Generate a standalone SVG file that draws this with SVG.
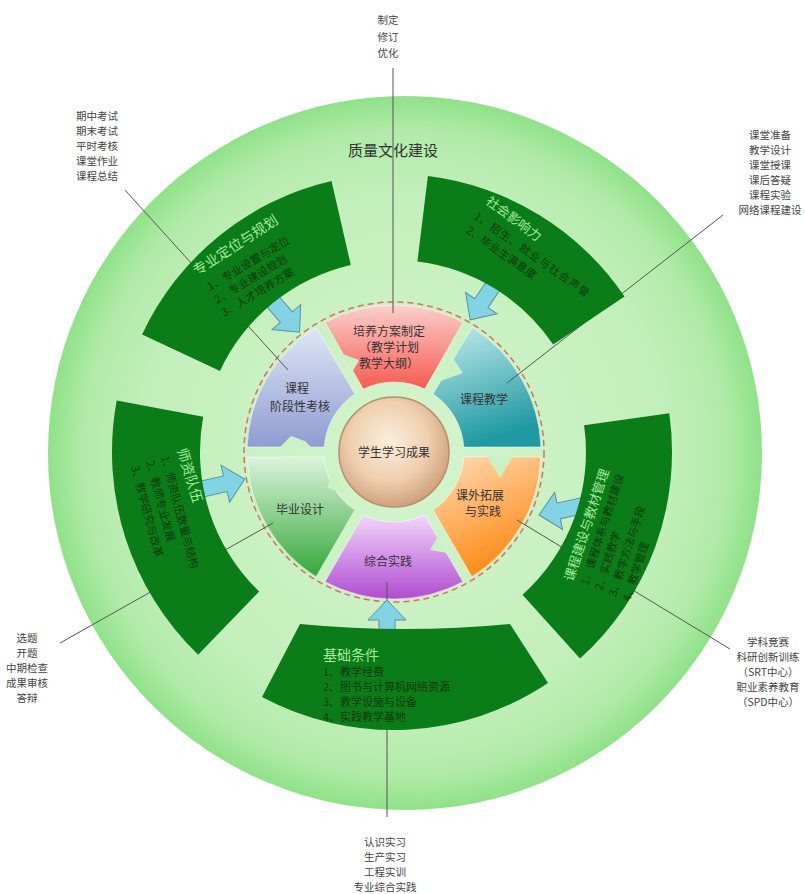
<svg xmlns="http://www.w3.org/2000/svg" width="805" height="894" viewBox="0 0 805 894">
<defs>
<radialGradient id="gOuter" cx="0.5" cy="0.5" r="0.5">
<stop offset="0" stop-color="#d4f5cd"/>
<stop offset="0.72" stop-color="#c3efbb"/>
<stop offset="0.9" stop-color="#b2eba9"/>
<stop offset="1" stop-color="#8fe288"/>
</radialGradient>
<radialGradient id="gCenter" cx="0.45" cy="0.4" r="0.6">
<stop offset="0" stop-color="#fbeedd"/>
<stop offset="0.6" stop-color="#efcfae"/>
<stop offset="1" stop-color="#cfa27c"/>
</radialGradient>
<linearGradient id="gRed" x1="0" y1="0" x2="0" y2="1"><stop offset="0" stop-color="#fcd0cc"/><stop offset="1" stop-color="#f55a50"/></linearGradient>
<linearGradient id="gTeal" x1="0" y1="0" x2="0.3" y2="1"><stop offset="0" stop-color="#c4ecec"/><stop offset="1" stop-color="#1f9aa2"/></linearGradient>
<linearGradient id="gOrange" x1="0" y1="0" x2="0.4" y2="1"><stop offset="0" stop-color="#ffdcb8"/><stop offset="1" stop-color="#ff8a14"/></linearGradient>
<linearGradient id="gPurple" x1="0" y1="0" x2="0" y2="1"><stop offset="0" stop-color="#f2d6fa"/><stop offset="1" stop-color="#b04cd2"/></linearGradient>
<linearGradient id="gGreen" x1="0" y1="0" x2="0" y2="1"><stop offset="0" stop-color="#dcf4dc"/><stop offset="1" stop-color="#34a83a"/></linearGradient>
<linearGradient id="gBlue" x1="0" y1="0" x2="0" y2="1"><stop offset="0" stop-color="#e0e6f6"/><stop offset="1" stop-color="#8e9cd0"/></linearGradient>
<polygon id="arrow" points="-14,-8 28,-8 28,-19 48,0 28,19 28,8 -14,8"/>
</defs>
<style>
.band{fill:#0b7d18}
.arr{fill:#82d4e4;stroke:#5d8fa6;stroke-width:1}
.piece{stroke:#ffffff;stroke-opacity:0.5;stroke-width:1}
.notch{fill:#caf2c3}
.ttl{font-family:"Noto Sans CJK SC","Noto Sans",sans-serif;font-size:14px;fill:#a2ec9e}
.itm{font-family:"Noto Sans CJK SC","Noto Sans",sans-serif;font-size:11px;fill:#0a3a0c}
.pl{font-family:"Noto Sans CJK SC","Noto Sans",sans-serif;font-size:12px;fill:#333333;text-anchor:middle}
.ol{font-family:"Noto Sans CJK SC","Noto Sans",sans-serif;font-size:10.5px;fill:#444444;text-anchor:middle}
.ln{stroke:#555555;stroke-width:1;fill:none}
</style>
<rect width="805" height="894" fill="#ffffff"/>
<g id="outer">
<circle cx="405" cy="453" r="357" fill="url(#gOuter)"/>
<text x="393" y="156" class="pl" style="font-size:15px">质量文化建设</text>
</g>
<g id="p-plan">
<path class="piece" fill="url(#gRed)" d="M325,322.2 A147,147 0 0 1 463,322.2 L424.7,389.1 A70,70 0 0 0 363.3,389.1 Z"/>
<polygon class="notch" points="343,354 359,360 353,371"/>
<text class="pl" x="389" y="336">培养方案制定</text>
<text class="pl" x="389" y="352">（教学计划</text>
<text class="pl" x="389" y="368">教学大纲）</text>
</g>
<g id="p-teach">
<path class="piece" fill="url(#gTeal)" d="M471.9,327.3 A147,147 0 0 1 540.9,446.9 L463.8,447.1 A70,70 0 0 0 433.1,394 Z"/>
<polygon class="notch" points="453.5,359 463,373 440.5,381"/>
<text class="pl" x="484" y="404">课程教学</text>
</g>
<g id="p-extra">
<path class="piece" fill="url(#gOrange)" d="M540.9,457.1 A147,147 0 0 1 471.9,576.7 L433.1,510 A70,70 0 0 0 463.8,456.9 Z"/>
<polygon class="notch" points="487,456 500,478 513,456"/>
<text class="pl" x="480" y="500">课外拓展</text>
<text class="pl" x="483" y="516">与实践</text>
</g>
<g id="p-practice">
<path class="piece" fill="url(#gPurple)" d="M463,581.8 A147,147 0 0 1 325,581.8 L363.3,514.9 A70,70 0 0 0 424.7,514.9 Z"/>
<polygon class="notch" points="438,536 430,550 447,553"/>
<text class="pl" x="388" y="566">综合实践</text>
</g>
<g id="p-grad">
<path class="piece" fill="url(#gGreen)" d="M316.1,576.7 A147,147 0 0 1 247.1,457.1 L324.2,456.9 A70,70 0 0 0 354.9,510 Z"/>
<polygon class="notch" points="333,471 327,488 346,493"/>
<text class="pl" x="300" y="514">毕业设计</text>
</g>
<g id="p-exam">
<path class="piece" fill="url(#gBlue)" d="M247.1,446.9 A147,147 0 0 1 316.1,327.3 L354.9,394 A70,70 0 0 0 324.2,447.1 Z"/>
<polygon class="notch" points="279,448 291,436 305,441 312,448"/>
<text class="pl" x="297" y="393">课程</text>
<text class="pl" x="300" y="411">阶段性考核</text>
</g>
<g id="pie">
<circle cx="394" cy="452" r="150" fill="none" stroke="#d9705e" stroke-width="1.5" stroke-dasharray="6 4"/>
</g>
<g id="center">
<circle cx="394" cy="452" r="55" fill="url(#gCenter)" stroke="#b98f6c" stroke-width="1.5"/>
<text class="pl" x="394" y="457">学生学习成果</text>
</g>
<g id="connectors">
<line class="ln" x1="393" y1="68" x2="393" y2="313"/>
<line class="ln" x1="125" y1="190" x2="288" y2="370"/>
<line class="ln" x1="723" y1="215" x2="507" y2="383"/>
<line class="ln" x1="60" y1="643" x2="273" y2="523"/>
<line class="ln" x1="730" y1="649" x2="517" y2="520"/>
<line class="ln" x1="387" y1="582" x2="387" y2="817"/>
</g>
<g id="arrows">
<use href="#arrow" class="arr" transform="translate(268,296) rotate(49)"/>
<use href="#arrow" class="arr" transform="translate(497,280) rotate(124)"/>
<use href="#arrow" class="arr" transform="translate(586,505) rotate(168)"/>
<use href="#arrow" class="arr" transform="translate(198,490) rotate(-13)"/>
<use href="#arrow" class="arr" transform="translate(387,648) rotate(-90)"/>
</g>
<g id="seg-plan">
<path class="band" d="M142.1,334.5 A278,278 0 0 1 331.5,181.1 L350.8,264.9 A192,192 0 0 0 220,370.9 Z"/>
<text class="ttl" transform="translate(197,276) rotate(-33)">专业定位与规划</text>
<text class="itm" transform="translate(210,291) rotate(-31)">1、专业设置与定位</text>
<text class="itm" transform="translate(217,304) rotate(-31)">2、专业建设规划</text>
<text class="itm" transform="translate(224,317) rotate(-31)">3、人才培养方案</text>
</g>
<g id="seg-social">
<path class="band" d="M427.9,176.1 A278,278 0 0 1 624.5,296.5 L553.2,344.6 A192,192 0 0 0 417.4,261.4 Z"/>
<text class="ttl" transform="translate(485,203) rotate(36.5)" style="font-size:13px">社会影响力</text>
<text class="itm" transform="translate(473,218) rotate(35)" style="letter-spacing:1px">1、招生、就业与社会声誉</text>
<text class="itm" transform="translate(465,232) rotate(35)">2、毕业生满意度</text>
</g>
<g id="seg-course">
<path class="band" d="M669.3,413.3 A278,278 0 0 1 580,658.6 L522.5,594.7 A192,192 0 0 0 584.1,425.3 Z"/>
<text class="ttl" transform="translate(573,582) rotate(-72)" style="font-size:13px">课程建设与教材管理</text>
<text class="itm" transform="translate(588,586) rotate(-72)">1、课程体系与教材建设</text>
<text class="itm" transform="translate(602,591) rotate(-72)">2、实践教学</text>
<text class="itm" transform="translate(616,597) rotate(-72)">3、教学方法与手段</text>
<text class="itm" transform="translate(630,602) rotate(-72)">4、教学管理</text>
</g>
<g id="seg-base">
<path class="band" d="M300,624 Q405,634 510,624 L548,683 A278,278 0 0 1 262,697 Z"/>
<text class="ttl" x="323" y="660">基础条件</text>
<text class="itm" x="323" y="676">1、教学经费</text>
<text class="itm" x="323" y="691">2、图书与计算机网络资源</text>
<text class="itm" x="323" y="706">3、教学设施与设备</text>
<text class="itm" x="323" y="721">4、实践教学基地</text>
</g>
<g id="seg-teacher">
<path class="band" d="M198.1,654.8 A282,282 0 0 1 116.7,400.6 L203.2,416.7 A194,194 0 0 0 259.2,591.5 Z"/>
<text class="ttl" transform="translate(177,450) rotate(73)">师资队伍</text>
<text class="itm" transform="translate(161,457) rotate(75)">1、师资队伍数量与结构</text>
<text class="itm" transform="translate(146,462) rotate(75)">2、教师专业发展</text>
<text class="itm" transform="translate(131,467) rotate(75)">3、教学研究与改革</text>
</g>
<g id="note-top">
<text class="ol" x="388" y="24">制定</text>
<text class="ol" x="388" y="41">修订</text>
<text class="ol" x="388" y="57">优化</text>
</g>
<g id="note-exam">
<text class="ol" x="97" y="120">期中考试</text>
<text class="ol" x="97" y="135">期末考试</text>
<text class="ol" x="97" y="150">平时考核</text>
<text class="ol" x="97" y="165">课堂作业</text>
<text class="ol" x="97" y="180">课程总结</text>
</g>
<g id="note-teach">
<text class="ol" x="770" y="139">课堂准备</text>
<text class="ol" x="770" y="154">教学设计</text>
<text class="ol" x="770" y="169">课堂授课</text>
<text class="ol" x="770" y="184">课后答疑</text>
<text class="ol" x="770" y="199">课程实验</text>
<text class="ol" x="770" y="214">网络课程建设</text>
</g>
<g id="note-grad">
<text class="ol" x="27" y="642">选题</text>
<text class="ol" x="27" y="657">开题</text>
<text class="ol" x="27" y="672">中期检查</text>
<text class="ol" x="27" y="687">成果审核</text>
<text class="ol" x="27" y="702">答辩</text>
</g>
<g id="note-extra">
<text class="ol" x="768" y="646">学科竞赛</text>
<text class="ol" x="768" y="661">科研创新训练</text>
<text class="ol" x="768" y="676">（SRT中心）</text>
<text class="ol" x="768" y="691">职业素养教育</text>
<text class="ol" x="768" y="706">（SPD中心）</text>
</g>
<g id="note-practice">
<text class="ol" x="385" y="846">认识实习</text>
<text class="ol" x="385" y="861">生产实习</text>
<text class="ol" x="385" y="876">工程实训</text>
<text class="ol" x="385" y="891">专业综合实践</text>
</g>
</svg>
